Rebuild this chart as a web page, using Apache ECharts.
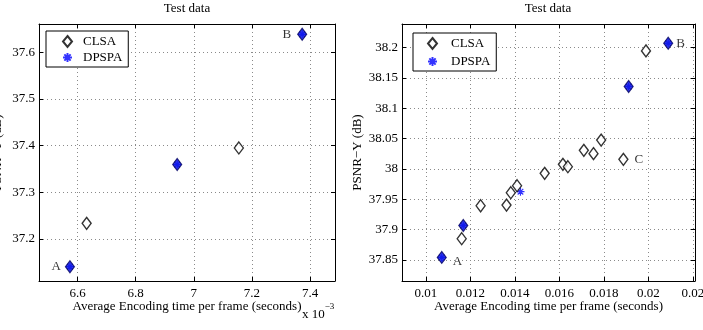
<!DOCTYPE html>
<html>
<head>
<meta charset="utf-8">
<script src="https://cdn.jsdelivr.net/npm/echarts@6/dist/echarts.min.js"></script>
<style>
  html, body { margin: 0; padding: 0; background: #fff; }
  #chart { width: 703px; height: 330px; }
</style>
</head>
<body>
<div id="chart"></div>
<script>
// left panel, x in units of 1e-3 s
const leftXTicks = [6.6, 6.8, 7.0, 7.2, 7.4];
const leftXLabels = ["6.6", "6.8", "7", "7.2", "7.4"];
const leftYTicks = [37.2, 37.3, 37.4, 37.5, 37.6];
const leftYLabels = ["37.2", "37.3", "37.4", "37.5", "37.6"];
const leftClsa = [[6.631, 37.2336], [7.155, 37.395]];
const leftDpspa = [[6.5735, 37.1407], [6.9427, 37.3595], [7.373, 37.6385]];
const leftFilled = [0, 1, 2]; // dpspa points drawn as filled diamonds
const leftDpspaText = ["A", "", "B"];

// right panel
const rightXTicks = [0.01, 0.012, 0.014, 0.016, 0.018, 0.02, 0.022];
const rightXLabels = ["0.01", "0.012", "0.014", "0.016", "0.018", "0.02", "0.02"];
const rightYTicks = [37.85, 37.9, 37.95, 38, 38.05, 38.1, 38.15, 38.2];
const rightYLabels = ["37.85", "37.9", "37.95", "38", "38.05", "38.1", "38.15", "38.2"];
const rightClsa = [
  [0.011611, 37.8852], [0.012461, 37.9395], [0.013624, 37.9406], [0.013817, 37.961],
  [0.014098, 37.9725], [0.015338, 37.9929], [0.016157, 38.0077], [0.016380, 38.0038],
  [0.017097, 38.0308], [0.017531, 38.0253], [0.017875, 38.0477], [0.018873, 38.016],
  [0.019888, 38.1946]
];
const rightClsaText = ["", "", "", "", "", "", "", "", "", "", "", "C", ""];
const rightDpspa = [[0.010716, 37.8544], [0.011682, 37.9071], [0.014251, 37.9627], [0.019110, 38.136], [0.020886, 38.2072]];
const rightFilled = [0, 1, 3, 4];
const rightDpspaText = ["A", "", "", "", "B"];

const serif = '"Liberation Serif", "Times New Roman", serif';
const star = "path://M0,-5L0,5M-5,0L5,0M-3.5,-3.5L3.5,3.5M-3.5,3.5L3.5,-3.5";

function pick(ticks, labels) {
  return function (v) {
    let best = 0;
    for (let i = 1; i < ticks.length; i++) {
      if (Math.abs(ticks[i] - v) < Math.abs(ticks[best] - v)) best = i;
    }
    return labels[best];
  };
}

function axisPair(kind, gridIndex, min, max, ticks, labels, name, nameGap) {
  const main = {
    type: "value",
    gridIndex: gridIndex,
    min: min,
    max: max,
    position: kind === "x" ? "bottom" : "left",
    name: name,
    nameLocation: "middle",
    nameGap: nameGap,
    nameMoveOverlap: false,
    nameTextStyle: { fontFamily: serif, fontSize: 13, color: "#000" },
    axisLine: { show: true, onZero: false, lineStyle: { color: "#000", width: 1 } },
    axisTick: { show: true, inside: true, length: 4, customValues: ticks, lineStyle: { color: "#000" } },
    axisLabel: {
      customValues: ticks,
      formatter: pick(ticks, labels),
      fontFamily: serif,
      fontSize: 13,
      color: "#000",
      margin: kind === "x" ? 6 : 4,
      hideOverlap: false,
      showMinLabel: true,
      showMaxLabel: true
    },
    splitLine: { show: true, lineStyle: { type: [1, 3], color: "#8a8a8a", width: 1 } }
  };
  const opp = {
    type: "value",
    gridIndex: gridIndex,
    min: min,
    max: max,
    position: kind === "x" ? "top" : "right",
    axisLine: { show: true, onZero: false, lineStyle: { color: "#000", width: 1 } },
    axisTick: { show: true, inside: true, length: 4, customValues: ticks, lineStyle: { color: "#000" } },
    axisLabel: { show: false },
    splitLine: { show: false }
  };
  return [main, opp];
}

function withText(points, texts, pos) {
  return points.map(function (p, i) {
    const t = texts ? texts[i] : "";
    if (!t) return p;
    return { value: p, label: Object.assign({ show: true, formatter: t }, pos[t]) };
  });
}

const labelFont = { fontFamily: serif, fontSize: 13, color: "#000" };
const leftPos = {
  A: { position: "left", distance: 4 },
  B: { position: "left", distance: 6 }
};
const rightPos = {
  A: { position: "right", distance: 6, offset: [0, 4] },
  B: { position: "right", distance: 3 },
  C: { position: "right", distance: 6 }
};

const openDiamond = {
  type: "scatter",
  name: "CLSA",
  symbol: "diamond",
  symbolSize: [9, 12],
  itemStyle: { color: "#fff", borderColor: "#000", borderWidth: 1.4 },
  label: labelFont,
  z: 3
};
const asterisk = {
  type: "scatter",
  name: "DPSPA",
  symbol: star,
  symbolSize: 8,
  itemStyle: { color: "#0000ff", borderColor: "#0000ff", borderWidth: 1.2 },
  z: 2
};
const filledDiamond = {
  type: "scatter",
  name: "marked",
  symbol: "diamond",
  symbolSize: [9, 12],
  itemStyle: { color: "#0a14e6", borderColor: "#000060", borderWidth: 1.2 },
  label: labelFont,
  z: 4
};

const lx = axisPair("x", 0, 6.467, 7.486, leftXTicks, leftXLabels, "Average Encoding time per frame (seconds)", 19);
const ly = axisPair("y", 0, 37.11, 37.6606, leftYTicks, leftYLabels, "PSNR\u2212Y (dB)", 35);
const rx = axisPair("x", 1, 0.00893, 0.02209, rightXTicks, rightXLabels, "Average Encoding time per frame (seconds)", 19);
const ry = axisPair("y", 1, 37.8155, 38.239, rightYTicks, rightYLabels, "PSNR\u2212Y (dB)", 38);

const chart = echarts.init(document.getElementById("chart"));
chart.setOption({
  backgroundColor: "#fff",
  animation: false,
  title: [
    { text: "Test data", left: 187, top: 2, textAlign: "center", padding: 0,
      textStyle: { fontFamily: serif, fontSize: 13, fontWeight: "normal", color: "#000" } },
    { text: "Test data", left: 548, top: 2, textAlign: "center", padding: 0,
      textStyle: { fontFamily: serif, fontSize: 13, fontWeight: "normal", color: "#000" } }
  ],
  legend: [
    { data: ["CLSA", "DPSPA"], orient: "vertical", left: 46, top: 31, padding: [4, 6, 3, 16],
      itemGap: 3, itemWidth: 9, itemHeight: 11, backgroundColor: "#fff",
      borderColor: "#000", borderWidth: 1, borderRadius: 0,
      textStyle: { fontFamily: serif, fontSize: 13, color: "#000", padding: [0, 0, 0, 6] } },
    { data: ["CLSA", "DPSPA"], orient: "vertical", left: 413, top: 33, padding: [4, 6, 3, 14],
      itemGap: 5, itemWidth: 9, itemHeight: 11, backgroundColor: "#fff",
      borderColor: "#000", borderWidth: 1, borderRadius: 0,
      textStyle: { fontFamily: serif, fontSize: 13, color: "#000", padding: [0, 0, 0, 9] } }
  ],
  grid: [
    { left: 39, top: 24, width: 296, height: 257, containLabel: false, outerBoundsMode: "none" },
    { left: 402, top: 24, width: 293, height: 257, containLabel: false, outerBoundsMode: "none" }
  ],
  xAxis: [lx[0], lx[1], rx[0], rx[1]],
  yAxis: [ly[0], ly[1], ry[0], ry[1]],
  graphic: [{
    type: "text",
    left: 302,
    top: 302,
    style: {
      text: "{a|x 10}{b|\u22123}",
      rich: {
        a: { fontFamily: serif, fontSize: 13, fill: "#000", padding: [6, 0, 0, 0] },
        b: { fontFamily: serif, fontSize: 9, fill: "#000", verticalAlign: "top" }
      }
    }
  }],
  series: [
    Object.assign({}, asterisk, { xAxisIndex: 0, yAxisIndex: 0, data: leftDpspa }),
    Object.assign({}, openDiamond, { xAxisIndex: 0, yAxisIndex: 0, data: leftClsa }),
    Object.assign({}, filledDiamond, { xAxisIndex: 0, yAxisIndex: 0,
      data: withText(leftFilled.map(i => leftDpspa[i]), leftFilled.map(i => leftDpspaText[i]), leftPos) }),
    Object.assign({}, asterisk, { xAxisIndex: 2, yAxisIndex: 2, data: rightDpspa }),
    Object.assign({}, openDiamond, { xAxisIndex: 2, yAxisIndex: 2, data: withText(rightClsa, rightClsaText, rightPos) }),
    Object.assign({}, filledDiamond, { xAxisIndex: 2, yAxisIndex: 2,
      data: withText(rightFilled.map(i => rightDpspa[i]), rightFilled.map(i => rightDpspaText[i]), rightPos) })
  ]
});
</script>
</body>
</html>
